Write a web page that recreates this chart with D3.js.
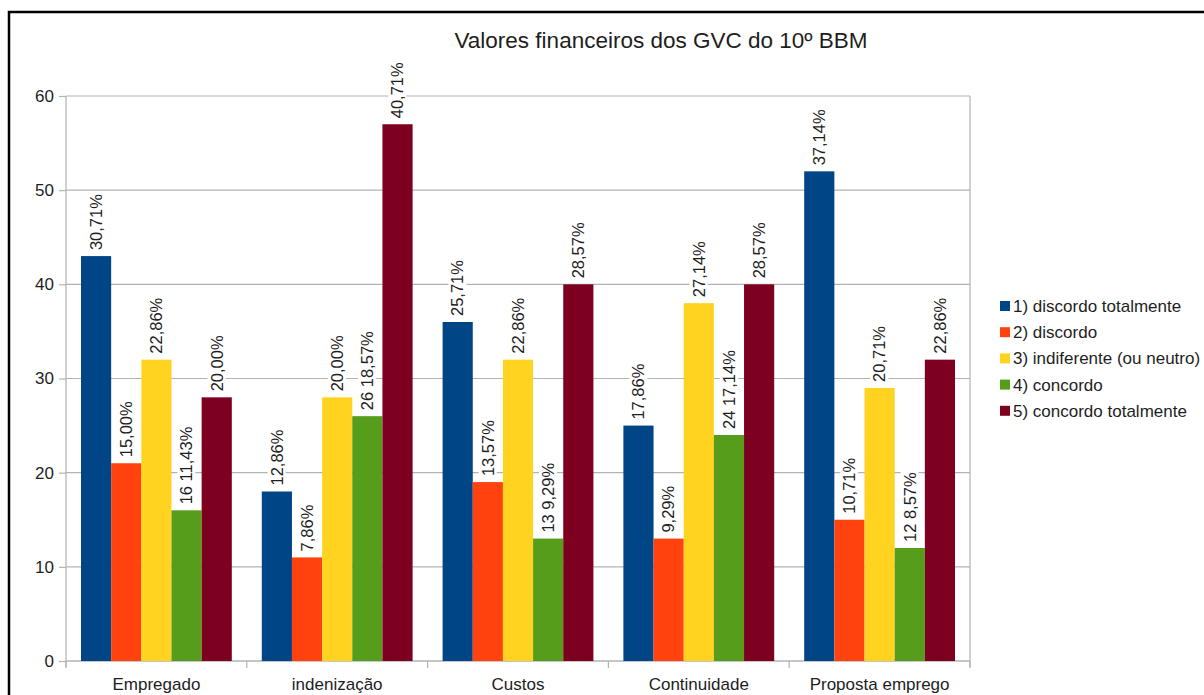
<!DOCTYPE html>
<html>
<head>
<meta charset="utf-8">
<script src="https://cdn.jsdelivr.net/npm/d3@7"></script>
<style>
  html, body { margin: 0; padding: 0; background: #fff; }
  svg { display: block; font-family: "Liberation Sans", Arial, sans-serif; }
</style>
</head>
<body>
<svg id="chart" width="1204" height="695"></svg>
<script>
// Survey answers per topic (counts), and the share each count represents
const categories = ["Empregado", "indenização", "Custos", "Continuidade", "Proposta emprego"];
const seriesNames = [
  "1) discordo totalmente",
  "2) discordo",
  "3) indiferente (ou neutro)",
  "4) concordo",
  "5) concordo totalmente"
];
const seriesColors = ["#004586", "#ff420e", "#ffd320", "#579d1c", "#7e0021"];

const discordoTotalmente = [43, 18, 36, 25, 52];
const discordo           = [21, 11, 19, 13, 15];
const indiferente        = [32, 28, 32, 38, 29];
const concordo           = [16, 26, 13, 24, 12];
const concordoTotalmente = [28, 57, 40, 40, 32];

const pctDiscordoTotalmente = ["30,71%", "12,86%", "25,71%", "17,86%", "37,14%"];
const pctDiscordo           = ["15,00%", "7,86%", "13,57%", "9,29%", "10,71%"];
const pctIndiferente        = ["22,86%", "20,00%", "22,86%", "27,14%", "20,71%"];
const pctConcordo           = ["11,43%", "18,57%", "9,29%", "17,14%", "8,57%"];
const pctConcordoTotalmente = ["20,00%", "40,71%", "28,57%", "28,57%", "22,86%"];

const yTicks = [0, 10, 20, 30, 40, 50, 60];

const seriesValues = [discordoTotalmente, discordo, indiferente, concordo, concordoTotalmente];
const seriesPct = [pctDiscordoTotalmente, pctDiscordo, pctIndiferente, pctConcordo, pctConcordoTotalmente];
// the "concordo" series also shows its raw count in the label
const showCount = [false, false, false, true, false];

const svg = d3.select("#chart");
const textColor = "#1e1e1e";

// outer frame
svg.append("rect")
  .attr("x", 9).attr("y", 12)
  .attr("width", 1204).attr("height", 700)
  .attr("fill", "#fff").attr("stroke", "#000").attr("stroke-width", 2.5);

const plot = { left: 66, right: 970, top: 96, bottom: 661 };

const x0 = d3.scaleBand().domain(categories)
  .range([plot.left, plot.right]).paddingInner(0).paddingOuter(0);
const groupPad = 15;
const x1 = d3.scaleBand().domain(d3.range(seriesNames.length))
  .range([groupPad, x0.bandwidth() - groupPad]);
const y = d3.scaleLinear().domain([0, 60]).range([plot.bottom, plot.top]);

const gridColor = "#b3b3b3";

// horizontal gridlines
svg.append("g").selectAll("line").data(yTicks).join("line")
  .attr("x1", plot.left).attr("x2", plot.right)
  .attr("y1", d => y(d)).attr("y2", d => y(d))
  .attr("stroke", gridColor).attr("stroke-width", 1.2);

// right border of plot area
svg.append("line")
  .attr("x1", plot.right).attr("x2", plot.right)
  .attr("y1", plot.top).attr("y2", plot.bottom + 6)
  .attr("stroke", gridColor).attr("stroke-width", 1.2);

// y axis
const yAxis = svg.append("g")
  .attr("transform", `translate(${plot.left},0)`)
  .call(d3.axisLeft(y).tickValues(yTicks).tickSize(7).tickPadding(5));
yAxis.select(".domain").attr("stroke", gridColor).attr("stroke-width", 1.2)
  .attr("d", `M0,${plot.top}V${plot.bottom + 6}`);
yAxis.selectAll(".tick line").attr("stroke", gridColor).attr("stroke-width", 1.2);
yAxis.selectAll(".tick text")
  .attr("fill", textColor).attr("font-size", 17)
  .attr("font-family", "'Liberation Sans', Arial, sans-serif");

// x axis (ticks at category boundaries)
const xAxisG = svg.append("g").attr("transform", `translate(0,${plot.bottom})`);
xAxisG.append("line")
  .attr("x1", plot.left).attr("x2", plot.right)
  .attr("stroke", gridColor).attr("stroke-width", 1.2);
const boundaries = categories.map(c => x0(c)).concat([plot.right]);
xAxisG.selectAll("line.tk").data(boundaries).join("line")
  .attr("class", "tk")
  .attr("x1", d => d).attr("x2", d => d)
  .attr("y1", 0).attr("y2", 7)
  .attr("stroke", gridColor).attr("stroke-width", 1.2);
xAxisG.selectAll("text").data(categories).join("text")
  .attr("x", d => x0(d) + x0.bandwidth() / 2)
  .attr("y", 29)
  .attr("text-anchor", "middle")
  .attr("font-size", 17)
  .attr("fill", textColor)
  .text(d => d);

// bars
const groups = svg.append("g").selectAll("g").data(categories).join("g")
  .attr("transform", d => `translate(${x0(d)},0)`);

groups.selectAll("rect")
  .data((c, ci) => seriesValues.map((vals, si) => ({ si, v: vals[ci] })))
  .join("rect")
  .attr("x", d => x1(d.si))
  .attr("width", x1.bandwidth())
  .attr("y", d => y(d.v))
  .attr("height", d => y(0) - y(d.v))
  .attr("fill", d => seriesColors[d.si]);

// value labels (rotated, on white boxes)
const labelData = [];
categories.forEach((c, ci) => {
  seriesValues.forEach((vals, si) => {
    const txt = (showCount[si] ? vals[ci] + " " : "") + seriesPct[si][ci];
    labelData.push({ c, si, v: vals[ci], txt });
  });
});

const labels = svg.append("g").selectAll("g").data(labelData).join("g")
  .attr("transform", d => {
    const cx = x0(d.c) + x1(d.si) + x1.bandwidth() / 2;
    return `translate(${cx},${y(d.v) - 6}) rotate(-90)`;
  });

labels.append("text")
  .attr("x", 0).attr("y", 0)
  .attr("dy", "0.35em")
  .attr("text-anchor", "start")
  .attr("font-size", 16.5)
  .attr("fill", textColor)
  .text(d => d.txt);

labels.each(function () {
  const g = d3.select(this);
  const bb = g.select("text").node().getBBox();
  g.insert("rect", "text")
    .attr("x", bb.x - 1).attr("y", bb.y)
    .attr("width", bb.width + 2).attr("height", bb.height)
    .attr("fill", "#fff");
});

// title
svg.append("text")
  .attr("x", 661).attr("y", 48)
  .attr("text-anchor", "middle")
  .attr("font-size", 22.5)
  .attr("fill", textColor)
  .text("Valores financeiros dos GVC do 10º BBM");

// legend
const legend = svg.append("g").attr("transform", "translate(1000,306)");
const leg = legend.selectAll("g").data(seriesNames).join("g")
  .attr("transform", (d, i) => `translate(0,${i * 26.2})`);
leg.append("rect")
  .attr("x", 0).attr("y", -5).attr("width", 10).attr("height", 10)
  .attr("fill", (d, i) => seriesColors[i]);
leg.append("text")
  .attr("x", 13).attr("y", 0).attr("dy", "0.35em")
  .attr("font-size", 17)
  .attr("fill", textColor)
  .text(d => d);
</script>
</body>
</html>
